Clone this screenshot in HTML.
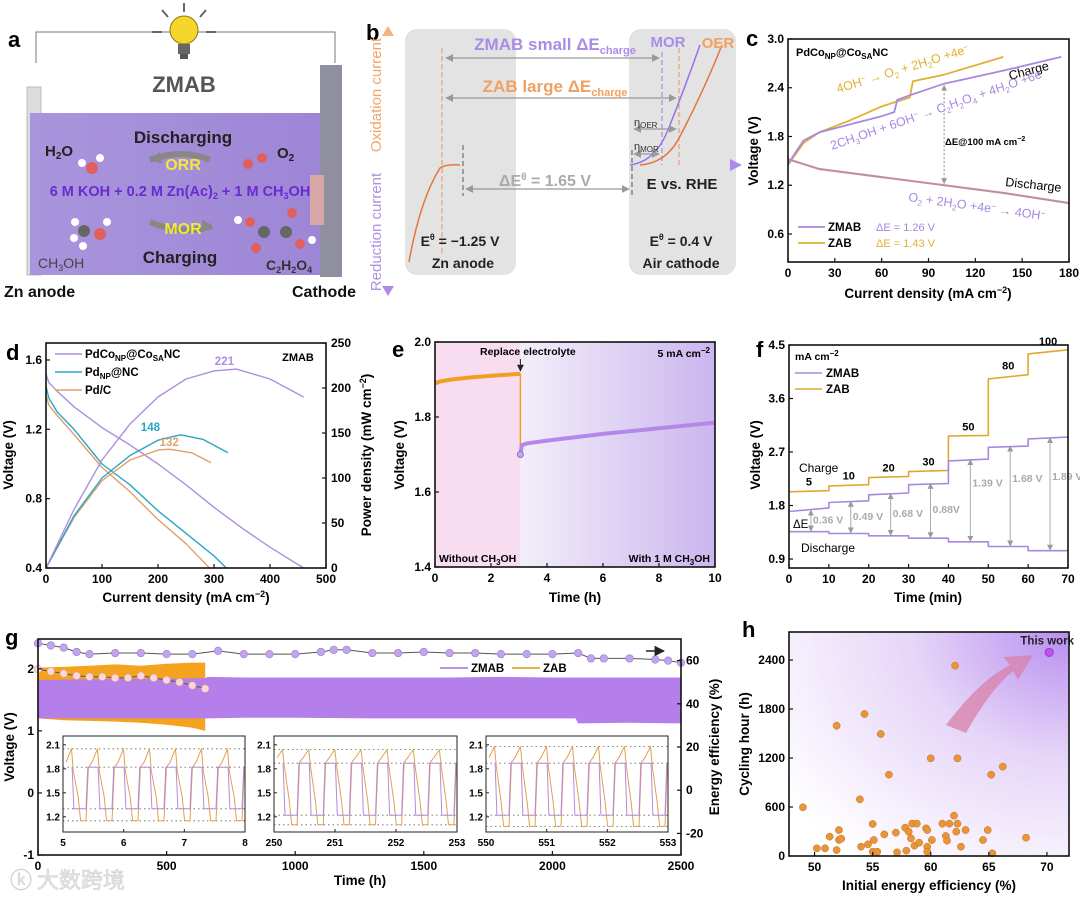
<!DOCTYPE html>
<html><head><meta charset="utf-8"><title>ZMAB figure</title>
<style>
html,body{margin:0;padding:0;background:#fff;}
svg{display:block;font-family:"Liberation Sans","Noto Sans CJK SC",sans-serif;}
.t{font-weight:bold;}
</style></head>
<body>
<svg id="fig" width="1080" height="897" viewBox="0 0 1080 897" xmlns="http://www.w3.org/2000/svg">
<defs>
<linearGradient id="axisGrad" x1="0" x2="1" y1="0" y2="0"><stop offset="0" stop-color="#f4b08a"/><stop offset="0.6" stop-color="#f2b9a0"/><stop offset="0.85" stop-color="#c4a0ec"/><stop offset="1" stop-color="#b08ae8"/></linearGradient>
<linearGradient id="vGrad" x1="0" x2="0" y1="0" y2="1"><stop offset="0" stop-color="#f6b27e"/><stop offset="0.5" stop-color="#f4b890"/><stop offset="0.55" stop-color="#c6a8ee"/><stop offset="1" stop-color="#b08ae8"/></linearGradient>
<linearGradient id="eRight" x1="0" x2="1"><stop offset="0" stop-color="#f3eefa"/><stop offset="1" stop-color="#cbb6ee"/></linearGradient>
<radialGradient id="hGrad" cx="1" cy="0" r="1.25"><stop offset="0" stop-color="#b88ef0"/><stop offset="0.45" stop-color="#e6d6f8"/><stop offset="1" stop-color="#ffffff"/></radialGradient>
<linearGradient id="liq" x1="0" x2="1"><stop offset="0" stop-color="#a995dc"/><stop offset="1" stop-color="#9d86d6"/></linearGradient>
<marker id="ah" viewBox="0 0 10 10" refX="9" refY="5" markerWidth="6" markerHeight="6" orient="auto-start-reverse"><path d="M0,0 L10,5 L0,10 z" fill="#999"/></marker>
<marker id="ahk" viewBox="0 0 10 10" refX="9" refY="5" markerWidth="7" markerHeight="7" orient="auto-start-reverse"><path d="M0,0 L10,5 L0,10 z" fill="#222"/></marker>
</defs>

<!-- ================= PANEL A ================= -->
<g>
<text x="8" y="47" class="t" font-size="22">a</text>
<polyline points="36,63 36,32 335,32 335,63" fill="none" stroke="#777" stroke-width="1"/>
<g>
<line x1="184" y1="3" x2="184" y2="12" stroke="#666" stroke-width="2"/>
<line x1="162" y1="10" x2="168" y2="17" stroke="#666" stroke-width="2"/>
<line x1="206" y1="10" x2="200" y2="17" stroke="#666" stroke-width="2"/>
<line x1="152" y1="32" x2="162" y2="32" stroke="#666" stroke-width="2"/>
<line x1="206" y1="32" x2="216" y2="32" stroke="#666" stroke-width="2"/>
<circle cx="184" cy="30" r="14" fill="#f6d62a" stroke="#8a7a20" stroke-width="1"/>
<rect x="178" y="44" width="12" height="10" fill="#666"/>
<rect x="180" y="54" width="8" height="5" fill="#555"/>
</g>
<text x="184" y="92" text-anchor="middle" class="t" font-size="22" fill="#555">ZMAB</text>
<rect x="27" y="87" width="14" height="188" fill="#dcdcdc" stroke="#bbb"/>
<rect x="30" y="113" width="290" height="162" fill="url(#liq)"/>
<rect x="320" y="65" width="22" height="212" fill="#8f8fa0"/>
<rect x="310" y="175" width="14" height="50" fill="#d8a8a8"/>
<text x="183" y="143" text-anchor="middle" class="t" font-size="17" fill="#222">Discharging</text>
<path d="M210,160 Q183,148 150,160" fill="none" stroke="#888" stroke-width="6"/>
<path d="M150,160 l10,-8 l2,12 z" fill="#888"/>
<text x="183" y="170" text-anchor="middle" class="t" font-size="16" fill="#f2e83a">ORR</text>
<text x="45" y="156" class="t" font-size="15" fill="#222">H<tspan font-size="10" dy="3">2</tspan><tspan dy="-3">O</tspan></text>
<text x="277" y="158" class="t" font-size="15" fill="#222">O<tspan font-size="10" dy="3">2</tspan></text>
<g><circle cx="92" cy="168" r="6" fill="#e06060"/><circle cx="82" cy="163" r="4" fill="#fff"/><circle cx="100" cy="158" r="4" fill="#fff"/></g>
<g><circle cx="248" cy="164" r="5" fill="#e06060"/><circle cx="262" cy="158" r="5" fill="#e06060"/></g>
<text x="180" y="196" text-anchor="middle" class="t" font-size="14.5" fill="#6a2ad0">6 M KOH + 0.2 M Zn(Ac)<tspan font-size="9" dy="3">2</tspan><tspan dy="-3"> + 1 M CH</tspan><tspan font-size="9" dy="3">3</tspan><tspan dy="-3">OH</tspan></text>
<path d="M150,222 Q183,236 212,226" fill="none" stroke="#888" stroke-width="6"/>
<path d="M212,226 l-10,-7 l1,13 z" fill="#888"/>
<text x="183" y="234" text-anchor="middle" class="t" font-size="16" fill="#f2e83a">MOR</text>
<text x="180" y="263" text-anchor="middle" class="t" font-size="17" fill="#222">Charging</text>
<g><circle cx="84" cy="231" r="6" fill="#666"/><circle cx="100" cy="234" r="6" fill="#e06060"/><circle cx="75" cy="222" r="4" fill="#fff"/><circle cx="74" cy="238" r="4" fill="#fff"/><circle cx="83" cy="246" r="4" fill="#fff"/><circle cx="107" cy="222" r="4" fill="#fff"/></g>
<g><circle cx="264" cy="232" r="6" fill="#666"/><circle cx="286" cy="232" r="6" fill="#666"/><circle cx="250" cy="222" r="5" fill="#e06060"/><circle cx="256" cy="248" r="5" fill="#e06060"/><circle cx="292" cy="213" r="5" fill="#e06060"/><circle cx="300" cy="244" r="5" fill="#e06060"/><circle cx="238" cy="220" r="4" fill="#fff"/><circle cx="312" cy="240" r="4" fill="#fff"/></g>
<text x="38" y="268" font-size="14" fill="#444">CH<tspan font-size="9" dy="3">3</tspan><tspan dy="-3">OH</tspan></text>
<text x="266" y="270" class="t" font-size="14" fill="#333">C<tspan font-size="9" dy="3">2</tspan><tspan dy="-3">H</tspan><tspan font-size="9" dy="3">2</tspan><tspan dy="-3">O</tspan><tspan font-size="9" dy="3">4</tspan></text>
<text x="4" y="297" class="t" font-size="16" fill="#111">Zn anode</text>
<text x="292" y="297" class="t" font-size="16" fill="#111">Cathode</text>
</g>

<!-- ================= PANEL B ================= -->
<g>
<text x="366" y="40" class="t" font-size="22">b</text>
<rect x="405" y="29" width="111" height="246" rx="12" fill="#e3e3e3"/>
<rect x="629" y="29" width="107" height="246" rx="12" fill="#e3e3e3"/>
<line x1="388" y1="290" x2="388" y2="34" stroke="url(#vGrad)" stroke-width="4"/>
<path d="M382,36 L388,26 L394,36 z" fill="#f6b27e"/>
<path d="M382,286 L388,296 L394,286 z" fill="#b08ae8"/>
<text transform="translate(381,95) rotate(-90)" text-anchor="middle" font-size="15" fill="#f2a56a">Oxidation current</text>
<text transform="translate(381,232) rotate(-90)" text-anchor="middle" font-size="15" fill="#b090e0">Reduction current</text>
<line x1="390" y1="165" x2="732" y2="165" stroke="url(#axisGrad)" stroke-width="5"/>
<path d="M730,159 L742,165 L730,171 z" fill="#b08ae8"/>
<path d="M409,262 Q420,200 440,168 Q446,164 460,165" fill="none" stroke="#e8743a" stroke-width="1.5"/>
<line x1="442" y1="48" x2="442" y2="256" stroke="#e8905a" stroke-dasharray="5,3"/>
<line x1="463" y1="145" x2="463" y2="196" stroke="#555" stroke-dasharray="5,3"/>
<line x1="632" y1="150" x2="632" y2="198" stroke="#555" stroke-dasharray="5,3"/>
<line x1="662" y1="52" x2="662" y2="165" stroke="#9a7ae0" stroke-dasharray="5,3"/>
<line x1="679" y1="48" x2="679" y2="165" stroke="#e8905a" stroke-dasharray="5,3"/>
<path d="M630,165 Q655,162 668,130 Q684,90 700,45" fill="none" stroke="#9a70e8" stroke-width="1.5"/>
<path d="M640,165 Q665,163 678,140 Q702,95 722,45" fill="none" stroke="#e8743a" stroke-width="1.5"/>
<line x1="446" y1="58" x2="659" y2="58" stroke="#999" stroke-width="1.3" marker-start="url(#ah)" marker-end="url(#ah)"/>
<line x1="446" y1="98" x2="676" y2="98" stroke="#999" stroke-width="1.3" marker-start="url(#ah)" marker-end="url(#ah)"/>
<line x1="466" y1="189" x2="629" y2="189" stroke="#999" stroke-width="1.3" marker-start="url(#ah)" marker-end="url(#ah)"/>
<line x1="634" y1="129" x2="676" y2="129" stroke="#999" stroke-width="1.3" marker-start="url(#ah)" marker-end="url(#ah)"/>
<line x1="634" y1="154" x2="659" y2="154" stroke="#999" stroke-width="1.3" marker-start="url(#ah)" marker-end="url(#ah)"/>
<text x="555" y="50" text-anchor="middle" class="t" font-size="17" fill="#a98ce8">ZMAB small ΔE<tspan font-size="11" dy="4">charge</tspan></text>
<text x="555" y="92" text-anchor="middle" class="t" font-size="17" fill="#f0a060">ZAB large ΔE<tspan font-size="11" dy="4">charge</tspan></text>
<text x="668" y="47" text-anchor="middle" class="t" font-size="15" fill="#a98ce8">MOR</text>
<text x="718" y="48" text-anchor="middle" class="t" font-size="15" fill="#f0a060">OER</text>
<text x="634" y="126" font-size="11" fill="#333">η<tspan font-size="8" dy="2">OER</tspan></text>
<text x="634" y="150" font-size="11" fill="#333">η<tspan font-size="8" dy="2">MOR</tspan></text>
<text x="545" y="186" text-anchor="middle" class="t" font-size="16" fill="#aaa">ΔE<tspan font-size="10" dy="-6">θ</tspan><tspan dy="6"> = 1.65 V</tspan></text>
<text x="682" y="189" text-anchor="middle" class="t" font-size="15" fill="#222">E vs. RHE</text>
<text x="460" y="246" text-anchor="middle" class="t" font-size="14" fill="#222">E<tspan font-size="9" dy="-6">θ</tspan><tspan dy="6"> = −1.25 V</tspan></text>
<text x="463" y="268" text-anchor="middle" class="t" font-size="14" fill="#222">Zn anode</text>
<text x="681" y="246" text-anchor="middle" class="t" font-size="14" fill="#222">E<tspan font-size="9" dy="-6">θ</tspan><tspan dy="6"> = 0.4 V</tspan></text>
<text x="681" y="268" text-anchor="middle" class="t" font-size="14" fill="#222">Air cathode</text>
</g>

<!-- static panel letters and text overlays -->
<text x="746" y="46" class="t" font-size="22">c</text>
<text x="6" y="360" class="t" font-size="22">d</text>
<text x="392" y="357" class="t" font-size="22">e</text>
<text x="756" y="357" class="t" font-size="22">f</text>
<text x="5" y="645" class="t" font-size="22">g</text>
<text x="742" y="637" class="t" font-size="22">h</text>
<text x="10" y="888" font-size="22" fill="#e6e6e6" stroke="#cfcfcf" stroke-width="0.6" font-family="Noto Sans CJK SC, sans-serif">ⓚ 大数跨境</text>
</svg>

<script>
const NS = "http://www.w3.org/2000/svg";
const svg = document.getElementById('fig');

/* ---------- data: panel c ---------- */
const cZmabJ = [0, 3, 10, 20, 40, 60, 68, 70, 80, 100, 140, 175];
const cZmabV = [1.45, 1.55, 1.75, 1.85, 1.95, 2.05, 2.1, 2.25, 2.32, 2.45, 2.62, 2.78];
const cZabJ = [0, 10, 20, 40, 60, 78, 80, 100, 138];
const cZabV = [1.45, 1.72, 1.85, 2.0, 2.17, 2.28, 2.48, 2.56, 2.78];
const cDisJ = [0, 20, 60, 100, 140, 180];
const cDisV = [1.52, 1.40, 1.30, 1.20, 1.10, 0.98];
const cXTicks = [0, 30, 60, 90, 120, 150, 180];
const cYTicks = [0.6, 1.2, 1.8, 2.4, 3.0];

/* ---------- data: panel d ---------- */
const dPdCoJ = [0, 5, 20, 50, 100, 150, 200, 250, 300, 350, 400, 460];
const dPdCoV = [1.52, 1.47, 1.42, 1.33, 1.21, 1.11, 1.0, 0.88, 0.75, 0.63, 0.52, 0.4];
const dPdCoPJ = [0, 50, 100, 150, 200, 250, 300, 340, 400, 460];
const dPdCoP = [0, 65, 120, 160, 190, 210, 219, 221, 210, 190];
const dPdNCJ = [0, 5, 20, 50, 100, 150, 200, 250, 300, 322];
const dPdNCV = [1.45, 1.38, 1.3, 1.2, 1.0, 0.88, 0.73, 0.6, 0.47, 0.4];
const dPdNCPJ = [0, 50, 100, 150, 200, 240, 280, 325];
const dPdNCP = [0, 58, 100, 125, 142, 148, 143, 128];
const dPdCJ = [0, 5, 20, 50, 100, 150, 200, 250, 292];
const dPdCV = [1.40, 1.34, 1.28, 1.17, 0.98, 0.84, 0.68, 0.54, 0.4];
const dPdCPJ = [0, 50, 100, 150, 200, 220, 260, 295];
const dPdCP = [0, 56, 97, 120, 131, 132, 128, 117];
const dXTicks = [0, 100, 200, 300, 400, 500];
const dYTicks = [0.4, 0.8, 1.2, 1.6];
const dY2Ticks = [0, 50, 100, 150, 200, 250];

/* ---------- data: panel e ---------- */
const eZabT = [0, 0.2, 0.6, 1.2, 2.0, 3.0, 3.05];
const eZabV = [1.89, 1.895, 1.9, 1.905, 1.91, 1.915, 1.915];
const eZmabT = [3.05, 3.1, 3.3, 4, 6, 8, 10];
const eZmabV = [1.70, 1.725, 1.73, 1.737, 1.755, 1.77, 1.785];
const eXTicks = [0, 2, 4, 6, 8, 10];
const eYTicks = [1.4, 1.6, 1.8, 2.0];

/* ---------- data: panel f ---------- */
const fStepT = [0, 10, 20, 30, 40, 50, 60, 70];
const fRates = ['5', '10', '20', '30', '50', '80', '100'];
const fZmabChg = [1.70, 1.85, 1.98, 2.15, 2.55, 2.78, 2.92];
const fZmabChgEnd = [1.76, 1.88, 2.01, 2.17, 2.58, 2.80, 2.95];
const fZabChg = [2.03, 2.13, 2.27, 2.37, 2.97, 3.93, 4.35];
const fZabChgEnd = [2.05, 2.15, 2.29, 2.39, 2.98, 4.0, 4.42];
const fDis = [1.36, 1.33, 1.29, 1.25, 1.19, 1.11, 1.04];
const fDeltaLabels = ['0.36 V', '0.49 V', '0.68 V', '0.88V', '1.39 V', '1.68 V', '1.89 V'];
const fXTicks = [0, 10, 20, 30, 40, 50, 60, 70];
const fYTicks = [0.9, 1.8, 2.7, 3.6, 4.5];

/* ---------- data: panel g ---------- */
const gZmabBandT = [0, 200, 400, 650, 660, 800, 1000, 1300, 1600, 1800, 2000, 2090, 2100, 2300, 2490, 2500];
const gZmabUpper = [1.82, 1.83, 1.84, 1.85, 1.87, 1.86, 1.86, 1.86, 1.86, 1.87, 1.86, 1.86, 1.86, 1.86, 1.86, 1.86];
const gZmabLower = [1.2, 1.2, 1.2, 1.2, 1.2, 1.21, 1.21, 1.2, 1.2, 1.2, 1.2, 1.2, 1.12, 1.13, 1.12, 1.12];
const gZabBandT = [0, 100, 200, 300, 400, 500, 600, 650];
const gZabUpper = [2.02, 2.03, 2.05, 2.07, 2.05, 2.08, 2.1, 2.1];
const gZabLower = [1.2, 1.17, 1.16, 1.15, 1.13, 1.1, 1.05, 1.0];
const gEffZmabT = [0, 50, 100, 150, 200, 300, 400, 500, 600, 700, 800, 900, 1000, 1100, 1150, 1200, 1300, 1400, 1500, 1600, 1700, 1800, 1900, 2000, 2100, 2150, 2200, 2300, 2400, 2450, 2500];
const gEffZmab = [68, 67, 66, 64, 63, 63.5, 63.5, 63, 63, 64.5, 63, 63, 63, 64, 65, 65, 63.5, 63.5, 64, 63.5, 63.5, 63, 63, 63, 63.5, 61, 61, 61, 60.5, 60, 59];
const gEffZabT = [0, 50, 100, 150, 200, 250, 300, 350, 400, 450, 500, 550, 600, 650];
const gEffZab = [56, 55, 54, 53, 52.5, 52.5, 52, 52, 53, 52, 51, 50, 48.5, 47];
const gXTicks = [0, 500, 1000, 1500, 2000, 2500];
const gYTicks = [-1, 0, 1, 2];
const gY2Ticks = [-20, 0, 20, 40, 60];
const insetStarts = [5, 250, 550];
const insetZmabChg = [1.82, 1.87, 1.87];
const insetZmabDis = [1.30, 1.22, 1.22];
const insetZabChgStart = [1.82, 1.88, 1.88];
const insetZabChgEnd = [2.05, 2.04, 2.08];
const insetZabDis = [1.15, 1.10, 1.08];
const insetYTicks = [1.2, 1.5, 1.8, 2.1];

/* ---------- data: panel h ---------- */
const hEff = [49.0, 51.9, 54.3, 55.7, 56.4, 60.0, 62.3, 62.1, 53.9, 65.2, 66.2, 50.2, 50.9, 51.9, 51.3, 52.1, 52.1, 52.3, 54.0, 54.6, 55.0, 55.1, 55.0, 55.4, 56.0, 57.0, 57.1, 57.8, 58.1, 57.9, 58.3, 58.4, 58.8, 58.6, 59.0, 59.6, 59.7, 59.7, 59.7, 60.1, 61.0, 61.3, 61.4, 61.6, 62.0, 62.2, 62.3, 62.6, 63.0, 64.5, 64.9, 65.3, 68.2];
const hHours = [596, 1596, 1739, 1494, 996, 1196, 1196, 2331, 694, 996, 1094, 94, 94, 73, 237, 318, 196, 212, 114, 143, 392, 196, 53, 53, 265, 286, 45, 347, 298, 65, 216, 396, 396, 127, 163, 339, 318, 114, 53, 196, 396, 245, 188, 396, 494, 298, 396, 114, 318, 196, 318, 33, 224];
const hThisEff = [70.2];
const hThisHours = [2494];
const hXTicks = [50, 55, 60, 65, 70];
const hYTicks = [0, 600, 1200, 1800, 2400];

/* ---------- helpers ---------- */
function mk(tag, attrs, parent) {
  const e = document.createElementNS(NS, tag);
  for (const k in attrs) e.setAttribute(k, attrs[k]);
  (parent || svg).appendChild(e);
  return e;
}
function lin(d0, d1, r0, r1) { return v => r0 + (v - d0) / (d1 - d0) * (r1 - r0); }
function pathFrom(xs, ys, sx, sy) {
  return xs.map((x, i) => (i ? 'L' : 'M') + sx(x).toFixed(1) + ',' + sy(ys[i]).toFixed(1)).join(' ');
}
function fmt(v) { return String(v); }

function frame(g, x0, y0, x1, y1, name) {
  const r = mk('rect', {x: x0, y: y0, width: x1 - x0, height: y1 - y0, fill: 'none', stroke: '#111', 'stroke-width': 1.6}, g);
  
  
}
function xTicks(g, ticks, sx, yb, name, fs, labels) {
  ticks.forEach((t, i) => {
    const l = mk('line', {x1: sx(t), x2: sx(t), y1: yb, y2: yb - 4, stroke: '#111', 'stroke-width': 1.2}, g);
    
    
    const tx = mk('text', {x: sx(t), y: yb + 15, 'text-anchor': 'middle', 'font-size': fs || 12, 'font-weight': 'bold'}, g);
    tx.textContent = labels ? labels[i] : fmt(t);
    
    
  });
}
function yTicks(g, ticks, sy, xl, name, side, fs, dec) {
  ticks.forEach(t => {
    const dir = side === 'right' ? -1 : 1;
    const l = mk('line', {x1: xl, x2: xl + 4 * dir, y1: sy(t), y2: sy(t), stroke: '#111', 'stroke-width': 1.2}, g);
    
    
    const tx = mk('text', {x: side === 'right' ? xl + 5 : xl - 4, y: sy(t) + 4, 'text-anchor': side === 'right' ? 'start' : 'end', 'font-size': fs || 12, 'font-weight': 'bold'}, g);
    tx.textContent = dec !== undefined ? t.toFixed(dec) : fmt(t);
    
    
  });
}
function label(g, x, y, html, opts, name) {
  const a = Object.assign({x: x, y: y, 'font-size': 13, 'font-weight': 'bold'}, opts || {});
  const t = mk('text', a, g);
  t.innerHTML = html;
  
  
  return t;
}
function line(g, d, color, w, name, extra) {
  const p = mk('path', Object.assign({d: d, fill: 'none', stroke: color, 'stroke-width': w, 'stroke-linejoin': 'round'}, extra || {}), g);
  
  
  return p;
}

/* ================= PANEL C ================= */
(function () {
  const g = mk('g', {});
  
  
  const sx = lin(0, 180, 788, 1069), sy = lin(0.255, 3.0, 262, 39);
  line(g, pathFrom(cDisJ, cDisV, sx, sy), '#e8a050', 2.2, 'zab-discharge-line');
  line(g, pathFrom(cDisJ, cDisV, sx, sy), '#a888e0', 1.2, 'zmab-discharge-line');
  line(g, pathFrom(cZabJ, cZabV, sx, sy), '#e0b030', 1.8, 'zab-charge-line');
  line(g, pathFrom(cZmabJ, cZmabV, sx, sy), '#a888e0', 1.8, 'zmab-charge-line');
  const da = mk('line', {x1: sx(100), x2: sx(100), y1: sy(2.43), y2: sy(1.22), stroke: '#888', 'stroke-dasharray': '2,2', 'marker-start': 'url(#ah)', 'marker-end': 'url(#ah)'}, g);
  
  
  frame(g, 788, 39, 1069, 262, 'panel-c');
  xTicks(g, cXTicks, sx, 262, 'panel-c');
  yTicks(g, cYTicks, sy, 788, 'panel-c', 'left', 12, 1);
  label(g, 928, 298, 'Current density (mA cm<tspan font-size="9" dy="-5">−2</tspan><tspan dy="5">)</tspan>', {'text-anchor': 'middle', 'font-size': 13.5}, 'panel-c-x-title');
  label(g, 0, 0, 'Voltage (V)', {transform: 'translate(758,151) rotate(-90)', 'text-anchor': 'middle', 'font-size': 13.5}, 'panel-c-y-title');
  label(g, 796, 56, 'PdCo<tspan font-size="8" dy="3">NP</tspan><tspan dy="-3">@Co</tspan><tspan font-size="8" dy="3">SA</tspan><tspan dy="-3">NC</tspan>', {'font-size': 11}, 'catalyst-label');
  label(g, 0, 0, '4OH<tspan font-size="8" dy="-4">−</tspan><tspan dy="4"> → O</tspan><tspan font-size="8" dy="3">2</tspan><tspan dy="-3"> + 2H</tspan><tspan font-size="8" dy="3">2</tspan><tspan dy="-3">O +4e</tspan><tspan font-size="8" dy="-4">−</tspan>', {transform: 'translate(838,93) rotate(-17)', 'font-size': 12.5, 'font-weight': 'normal', fill: '#e0b030'}, 'oer-equation');
  label(g, 0, 0, 'Charge', {transform: 'translate(1010,80) rotate(-15)', 'font-size': 12.5, 'font-weight': 'normal'}, 'charge-label-c');
  label(g, 0, 0, '2CH<tspan font-size="8" dy="3">3</tspan><tspan dy="-3">OH + 6OH</tspan><tspan font-size="8" dy="-4">−</tspan><tspan dy="4"> → C</tspan><tspan font-size="8" dy="3">2</tspan><tspan dy="-3">H</tspan><tspan font-size="8" dy="3">2</tspan><tspan dy="-3">O</tspan><tspan font-size="8" dy="3">4</tspan><tspan dy="-3"> + 4H</tspan><tspan font-size="8" dy="3">2</tspan><tspan dy="-3">O +6e</tspan><tspan font-size="8" dy="-4">−</tspan>', {transform: 'translate(832,150) rotate(-19)', 'font-size': 12.5, 'font-weight': 'normal', fill: '#a888e0'}, 'mor-equation');
  label(g, 945, 145, 'ΔE@100 mA cm<tspan font-size="7" dy="-4">−2</tspan>', {'font-size': 9.5}, 'delta-e-100-label');
  label(g, 0, 0, 'Discharge', {transform: 'translate(1005,186) rotate(6)', 'font-size': 12.5, 'font-weight': 'normal'}, 'discharge-label-c');
  label(g, 0, 0, 'O<tspan font-size="8" dy="3">2</tspan><tspan dy="-3"> + 2H</tspan><tspan font-size="8" dy="3">2</tspan><tspan dy="-3">O +4e</tspan><tspan font-size="8" dy="-4">−</tspan><tspan dy="4"> → 4OH</tspan><tspan font-size="8" dy="-4">−</tspan>', {transform: 'translate(908,201) rotate(8)', 'font-size': 12.5, 'font-weight': 'normal', fill: '#a888e0'}, 'orr-equation');
  line(g, 'M798,227 L825,227', '#a888e0', 1.8, 'legend-zmab-line-c');
  line(g, 'M798,243 L825,243', '#e0b030', 1.8, 'legend-zab-line-c');
  label(g, 828, 231, 'ZMAB', {'font-size': 11.5}, 'legend-zmab-c');
  label(g, 828, 247, 'ZAB', {'font-size': 11.5}, 'legend-zab-c');
  label(g, 876, 231, 'ΔE = 1.26 V', {'font-size': 11, 'font-weight': 'normal', fill: '#a888e0'}, 'zmab-delta-e');
  label(g, 876, 247, 'ΔE = 1.43 V', {'font-size': 11, 'font-weight': 'normal', fill: '#e0b030'}, 'zab-delta-e');
})();

/* ================= PANEL D ================= */
(function () {
  const g = mk('g', {});
  
  
  const sx = lin(0, 500, 46, 326), sy = lin(0.4, 1.698, 568, 343), sy2 = lin(0, 250, 568, 343);
  const cols = ['#ad8ee0', '#2aa5c8', '#e0a06c'];
  line(g, pathFrom(dPdCJ, dPdCV, sx, sy), cols[2], 1.4, 'pdc-polarization-line');
  line(g, pathFrom(dPdNCJ, dPdNCV, sx, sy), cols[1], 1.4, 'pdnp-polarization-line');
  line(g, pathFrom(dPdCoJ, dPdCoV, sx, sy), cols[0], 1.4, 'pdco-polarization-line');
  line(g, pathFrom(dPdCPJ, dPdCP, sx, sy2), cols[2], 1.4, 'pdc-power-line');
  line(g, pathFrom(dPdNCPJ, dPdNCP, sx, sy2), cols[1], 1.4, 'pdnp-power-line');
  line(g, pathFrom(dPdCoPJ, dPdCoP, sx, sy2), cols[0], 1.4, 'pdco-power-line');
  frame(g, 46, 343, 326, 568, 'panel-d');
  xTicks(g, dXTicks, sx, 568, 'panel-d');
  yTicks(g, dYTicks, sy, 46, 'panel-d', 'left', 12, 1);
  yTicks(g, dY2Ticks, sy2, 326, 'panel-d-right', 'right', 12);
  label(g, 186, 602, 'Current density (mA cm<tspan font-size="9" dy="-5">−2</tspan><tspan dy="5">)</tspan>', {'text-anchor': 'middle', 'font-size': 13.5}, 'panel-d-x-title');
  label(g, 0, 0, 'Voltage (V)', {transform: 'translate(13,455) rotate(-90)', 'text-anchor': 'middle', 'font-size': 13.5}, 'panel-d-y-title');
  label(g, 0, 0, 'Power density (mW cm<tspan font-size="9" dy="-5">−2</tspan><tspan dy="5">)</tspan>', {transform: 'translate(371,455) rotate(-90)', 'text-anchor': 'middle', 'font-size': 13.5}, 'panel-d-y2-title');
  const names = ['PdCo<tspan font-size="8" dy="3">NP</tspan><tspan dy="-3">@Co</tspan><tspan font-size="8" dy="3">SA</tspan><tspan dy="-3">NC</tspan>', 'Pd<tspan font-size="8" dy="3">NP</tspan><tspan dy="-3">@NC</tspan>', 'Pd/C'];
  names.forEach((n, i) => {
    line(g, 'M55,' + (354 + i * 18) + ' L82,' + (354 + i * 18), cols[i], 1.6, 'legend-line-d-' + i);
    label(g, 85, 358 + i * 18, n, {'font-size': 11.5}, 'legend-label-d-' + i);
  });
  label(g, 298, 361, 'ZMAB', {'font-size': 11, 'text-anchor': 'middle'}, 'zmab-tag-d');
  label(g, sx(dPdCoPJ[7]) - 12, sy2(dPdCoP[7]) - 4, String(dPdCoP[7]), {'font-size': 11.5, 'text-anchor': 'middle', fill: cols[0]}, 'pdco-peak-label');
  label(g, sx(dPdNCPJ[5]) - 30, sy2(dPdNCP[5]) - 4, String(dPdNCP[5]), {'font-size': 11.5, 'text-anchor': 'middle', fill: cols[1]}, 'pdnp-peak-label');
  label(g, sx(dPdCPJ[5]), sy2(dPdCP[5]) - 3, String(dPdCP[5]), {'font-size': 11.5, 'text-anchor': 'middle', fill: cols[2]}, 'pdc-peak-label');
})();

/* ================= PANEL E ================= */
(function () {
  const g = mk('g', {});
  
  
  const sx = lin(0, 10, 435, 715), sy = lin(1.4, 2.0, 567, 342);
  const b1 = mk('rect', {x: 435, y: 342, width: sx(3.05) - 435, height: 225, fill: '#f8dcef'}, g);
  
  
  const b2 = mk('rect', {x: sx(3.05), y: 342, width: 715 - sx(3.05), height: 225, fill: 'url(#eRight)'}, g);
  
  
  line(g, pathFrom(eZabT, eZabV, sx, sy), '#f0a020', 4, 'zab-voltage-line-e');
  line(g, 'M' + sx(3.05) + ',' + sy(1.915) + ' L' + sx(3.05) + ',' + sy(1.70), '#f0a020', 1.5, 'voltage-drop-e');
  line(g, pathFrom(eZmabT, eZmabV, sx, sy), '#b388e8', 4, 'zmab-voltage-line-e');
  const dot = mk('circle', {cx: sx(eZmabT[0]), cy: sy(eZmabV[0]), r: 3, fill: '#c8a8f0', stroke: '#9070d0'}, g);
  
  
  frame(g, 435, 342, 715, 567, 'panel-e');
  xTicks(g, eXTicks, sx, 567, 'panel-e');
  yTicks(g, eYTicks, sy, 435, 'panel-e', 'left', 12, 1);
  label(g, 575, 602, 'Time (h)', {'text-anchor': 'middle', 'font-size': 13.5}, 'panel-e-x-title');
  label(g, 0, 0, 'Voltage (V)', {transform: 'translate(404,455) rotate(-90)', 'text-anchor': 'middle', 'font-size': 13.5}, 'panel-e-y-title');
  label(g, 480, 355, 'Replace electrolyte', {'font-size': 10.5}, 'replace-electrolyte-label');
  const ar = mk('line', {x1: sx(3.05), x2: sx(3.05), y1: 359, y2: 371, stroke: '#222', 'marker-end': 'url(#ahk)'}, g);
  
  
  label(g, 710, 357, '5 mA cm<tspan font-size="8" dy="-4">−2</tspan>', {'font-size': 10.5, 'text-anchor': 'end'}, 'current-density-tag-e');
  label(g, 439, 562, 'Without CH<tspan font-size="8" dy="3">3</tspan><tspan dy="-3">OH</tspan>', {'font-size': 10.5}, 'without-methanol-label');
  label(g, 710, 562, 'With 1 M CH<tspan font-size="8" dy="3">3</tspan><tspan dy="-3">OH</tspan>', {'font-size': 10.5, 'text-anchor': 'end'}, 'with-methanol-label');
})();

/* ================= PANEL F ================= */
(function () {
  const g = mk('g', {});
  
  
  const sx = lin(0, 70, 789, 1068), sy = lin(0.749, 4.5, 568, 345);
  function stepPath(a, b) {
    let d = '';
    for (let i = 0; i < a.length; i++) {
      d += (i ? 'L' : 'M') + sx(fStepT[i]).toFixed(1) + ',' + sy(a[i]).toFixed(1);
      d += ' L' + sx(fStepT[i + 1]).toFixed(1) + ',' + sy(b[i]).toFixed(1) + ' ';
    }
    return d;
  }
  line(g, stepPath(fZabChg, fZabChgEnd), '#e0a830', 1.6, 'zab-charge-steps');
  line(g, stepPath(fZmabChg, fZmabChgEnd), '#a888e0', 1.6, 'zmab-charge-steps');
  line(g, stepPath(fDis, fDis), '#a888e0', 1.6, 'zmab-discharge-steps');
  fDis.forEach((v, i) => {
    const tm = fStepT[i] + 5.5;
    const a = mk('line', {x1: sx(tm), x2: sx(tm), y1: sy(fZmabChg[i] + 0.02), y2: sy(v + 0.01), stroke: '#aaa', 'stroke-width': 1, 'marker-start': 'url(#ah)', 'marker-end': 'url(#ah)'}, g);
    
    
    label(g, sx(tm) + 2, sy((fZmabChg[i] + v) / 2 + (i >= 4 ? 0.25 : -0.03)), fDeltaLabels[i], {'font-size': 10.5, fill: '#aaa'}, 'delta-e-value-f');
    label(g, sx(fStepT[i] + 5), sy(fZabChgEnd[i]) - 5, fRates[i], {'font-size': 11, 'text-anchor': 'middle'}, 'rate-label-f');
  });
  frame(g, 789, 345, 1068, 568, 'panel-f');
  xTicks(g, fXTicks, sx, 568, 'panel-f');
  yTicks(g, fYTicks, sy, 789, 'panel-f', 'left', 12, 1);
  label(g, 928, 602, 'Time (min)', {'text-anchor': 'middle', 'font-size': 13.5}, 'panel-f-x-title');
  label(g, 0, 0, 'Voltage (V)', {transform: 'translate(760,455) rotate(-90)', 'text-anchor': 'middle', 'font-size': 13.5}, 'panel-f-y-title');
  label(g, 795, 360, 'mA cm<tspan font-size="8" dy="-4">−2</tspan>', {'font-size': 10.5}, 'unit-label-f');
  line(g, 'M795,373 L822,373', '#a888e0', 1.6, 'legend-zmab-line-f');
  line(g, 'M795,389 L822,389', '#e0a830', 1.6, 'legend-zab-line-f');
  label(g, 826, 377, 'ZMAB', {'font-size': 11.5}, 'legend-zmab-f');
  label(g, 826, 393, 'ZAB', {'font-size': 11.5}, 'legend-zab-f');
  label(g, 799, 472, 'Charge', {'font-size': 12, 'font-weight': 'normal'}, 'charge-label-f');
  label(g, 801, 552, 'Discharge', {'font-size': 12, 'font-weight': 'normal'}, 'discharge-label-f');
  label(g, 793, 528, 'ΔE', {'font-size': 11.5, 'font-weight': 'normal'}, 'delta-e-tag-f');
})();

/* ================= PANEL G ================= */
(function () {
  const g = mk('g', {});
  
  
  const x0 = 38, x1 = 681, y0 = 639, y1 = 855;
  const sx = lin(0, 2500, x0, x1), sy = lin(-1, 2.48, y1, y0), sy2 = lin(-30, 70, y1, y0);
  function band(ts, up, lo) {
    let d = ts.map((t, i) => (i ? 'L' : 'M') + sx(t).toFixed(1) + ',' + sy(up[i]).toFixed(1)).join(' ');
    for (let i = ts.length - 1; i >= 0; i--) d += ' L' + sx(ts[i]).toFixed(1) + ',' + sy(lo[i]).toFixed(1);
    return d + ' Z';
  }
  const zb = mk('path', {d: band(gZabBandT, gZabUpper, gZabLower), fill: '#f5a21e'}, g);
  
  
  const mb = mk('path', {d: band(gZmabBandT, gZmabUpper, gZmabLower), fill: '#b47fea'}, g);
  
  
  line(g, pathFrom(gEffZmabT, gEffZmab, sx, sy2), '#555', 1, 'zmab-efficiency-line');
  gEffZmabT.forEach((t, i) => {
    const c = mk('circle', {cx: sx(t), cy: sy2(gEffZmab[i]), r: 3.8, fill: '#c0a4ec', stroke: '#9a80d0', 'stroke-width': 0.6}, g);
    
    
  });
  line(g, pathFrom(gEffZabT, gEffZab, sx, sy2), '#555', 1, 'zab-efficiency-line');
  gEffZabT.forEach((t, i) => {
    const c = mk('circle', {cx: sx(t), cy: sy2(gEffZab[i]), r: 3.8, fill: '#f8d8dc', stroke: '#e0a080', 'stroke-width': 0.6}, g);
    
    
  });
  /* insets */
  const insetX = [[63, 245], [274, 457], [486, 668]];
  insetStarts.forEach((st, k) => {
    const ig = mk('g', {}, g);
    
    
    const ix0 = insetX[k][0], ix1 = insetX[k][1], iy0 = 736, iy1 = 832;
    const bg = mk('rect', {x: ix0, y: iy0, width: ix1 - ix0, height: iy1 - iy0, fill: '#fff'}, ig);
    
    
    const isx = lin(st, st + 3, ix0, ix1), isy = lin(1.01, 2.21, iy1, iy0);
    [insetZabChgEnd[k], insetZmabChg[k], insetZmabDis[k], insetZabDis[k]].forEach(v => {
      const dl = mk('line', {x1: ix0, x2: ix1, y1: isy(v), y2: isy(v), stroke: '#666', 'stroke-dasharray': '1.5,3', 'stroke-width': 0.8}, ig);
      
      
    });
    const P = 3 / 7;
    let dm = '', dz = '';
    for (let c = 0; c < 8; c++) {
      const t = st - 0.05 + c * P;
      const pts = [[t, insetZmabDis[k]], [t + 0.03, insetZmabChg[k]], [t + 0.2, insetZmabChg[k]], [t + 0.23, insetZmabDis[k]], [t + P, insetZmabDis[k]]];
      const zp = [[t, insetZabDis[k]], [t + 0.04, insetZabChgStart[k]], [t + 0.1, insetZabChgStart[k] + 0.06], [t + 0.19, insetZabChgEnd[k]], [t + 0.22, insetZabChgStart[k] - 0.05], [t + 0.3, insetZabDis[k] + 0.3], [t + 0.34, insetZabDis[k]], [t + P, insetZabDis[k]]];
      pts.forEach(p => { if (p[0] >= st && p[0] <= st + 3) dm += (dm ? 'L' : 'M') + isx(p[0]).toFixed(1) + ',' + isy(p[1]).toFixed(1) + ' '; });
      zp.forEach(p => { if (p[0] >= st && p[0] <= st + 3) dz += (dz ? 'L' : 'M') + isx(p[0]).toFixed(1) + ',' + isy(p[1]).toFixed(1) + ' '; });
    }
    line(ig, dz, '#e0a050', 1, 'inset-zab-profile');
    line(ig, dm, '#b58ae0', 1, 'inset-zmab-profile');
    const fr = mk('rect', {x: ix0, y: iy0, width: ix1 - ix0, height: iy1 - iy0, fill: 'none', stroke: '#222', 'stroke-width': 1}, ig);
    
    
    const xt = [st, st + 1, st + 2, st + 3];
    xt.forEach(t => {
      const tl = mk('line', {x1: isx(t), x2: isx(t), y1: iy1, y2: iy1 - 3, stroke: '#222'}, ig);
      
      
      const tx = mk('text', {x: isx(t), y: iy1 + 14, 'text-anchor': 'middle', 'font-size': 10, 'font-weight': 'bold'}, ig);
      tx.textContent = String(t);
      
      
    });
    insetYTicks.forEach(v => {
      const tl = mk('line', {x1: ix0, x2: ix0 + 3, y1: isy(v), y2: isy(v), stroke: '#222'}, ig);
      
      
      const tx = mk('text', {x: ix0 - 3, y: isy(v) + 3.5, 'text-anchor': 'end', 'font-size': 10, 'font-weight': 'bold'}, ig);
      tx.textContent = v.toFixed(1);
      
      
    });
  });
  frame(g, x0, y0, x1, y1, 'panel-g');
  xTicks(g, gXTicks, sx, y1, 'panel-g');
  yTicks(g, gYTicks, sy, x0, 'panel-g', 'left', 12);
  yTicks(g, gY2Ticks, sy2, x1, 'panel-g-right', 'right', 12);
  label(g, 360, 885, 'Time (h)', {'text-anchor': 'middle', 'font-size': 13.5}, 'panel-g-x-title');
  label(g, 0, 0, 'Voltage (V)', {transform: 'translate(14,747) rotate(-90)', 'text-anchor': 'middle', 'font-size': 13.5}, 'panel-g-y-title');
  label(g, 0, 0, 'Energy efficiency (%)', {transform: 'translate(719,747) rotate(-90)', 'text-anchor': 'middle', 'font-size': 13.5}, 'panel-g-y2-title');
  line(g, 'M440,668 L468,668', '#b47fea', 1.8, 'legend-zmab-line-g');
  label(g, 471, 672, 'ZMAB', {'font-size': 11.5}, 'legend-zmab-g');
  line(g, 'M512,668 L540,668', '#e0a830', 1.8, 'legend-zab-line-g');
  label(g, 543, 672, 'ZAB', {'font-size': 11.5}, 'legend-zab-g');
  const ra = mk('line', {x1: 646, x2: 664, y1: 651, y2: 651, stroke: '#222', 'stroke-width': 1.5, 'marker-end': 'url(#ahk)'}, g);
  
  
})();

/* ================= PANEL H ================= */
(function () {
  const g = mk('g', {});
  
  
  const x0 = 789, x1 = 1069, y0 = 632, y1 = 856;
  const sx = lin(47.8, 71.9, x0, x1), sy = lin(0, 2743, y1, y0);
  const bg = mk('rect', {x: x0, y: y0, width: x1 - x0, height: y1 - y0, fill: 'url(#hGrad)'}, g);
  
  
  const arrow = mk('path', {d: 'M946,725 Q980,680 1010,665 L1003,657 L1033,655 L1018,680 L1013,671 Q990,690 966,733 Z', fill: '#d880a8', opacity: 0.75}, g);
  
  
  hEff.forEach((e, i) => {
    const c = mk('circle', {cx: sx(e), cy: sy(hHours[i]), r: 3.6, fill: '#e8953a', stroke: '#c47020', 'stroke-width': 0.5}, g);
    
    
  });
  hThisEff.forEach((e, i) => {
    const c = mk('circle', {cx: sx(e), cy: sy(hThisHours[i]), r: 4.2, fill: '#c050e8', stroke: '#8a20c0', 'stroke-width': 0.6}, g);
    
    
    label(g, sx(e) - 2, sy(hThisHours[i]) - 8, 'This work', {'font-size': 11.5, 'text-anchor': 'middle', fill: '#222'}, 'this-work-label');
  });
  frame(g, x0, y0, x1, y1, 'panel-h');
  xTicks(g, hXTicks, sx, y1, 'panel-h');
  yTicks(g, hYTicks, sy, x0, 'panel-h', 'left', 12);
  label(g, 929, 890, 'Initial energy efficiency (%)', {'text-anchor': 'middle', 'font-size': 13.5}, 'panel-h-x-title');
  label(g, 0, 0, 'Cycling hour (h)', {transform: 'translate(749,744) rotate(-90)', 'text-anchor': 'middle', 'font-size': 13.5}, 'panel-h-y-title');
})();
</script>
</body></html>
